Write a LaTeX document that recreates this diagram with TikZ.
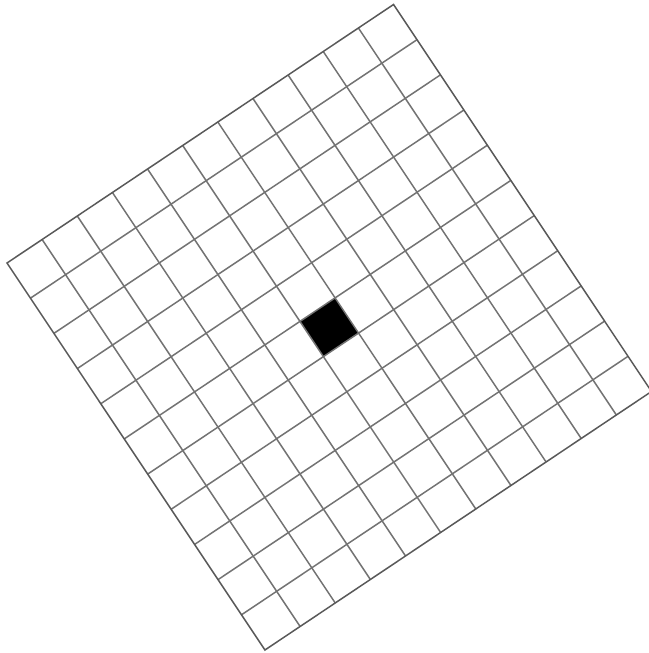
\documentclass[tikz,border=0pt]{standalone}
\begin{document}
\begin{tikzpicture}
\tikzset{gridline/.style={draw=black!55, line width=1.5pt}, cellfill/.style={fill=black}}
\useasboundingbox (0pt,0pt) rectangle (648pt,-653pt);
\begin{scope}[shift={(7pt,-263pt)}, x={(35.14pt,23.5pt)}, y={(23.45pt,-35.18pt)}]
  \fill[cellfill] (5,5) -- (6,5) -- (6,6) -- (5,6) -- cycle;
  \foreach \i in {1,...,10} {
    \draw[gridline] (\i,0) -- (\i,11);
    \draw[gridline] (0,\i) -- (11,\i);
  }
  \draw[draw=black!65, line width=1.5pt] (0,0) -- (11,0) -- (11,11) -- (0,11) -- cycle;
\end{scope}
\end{tikzpicture}
\end{document}
